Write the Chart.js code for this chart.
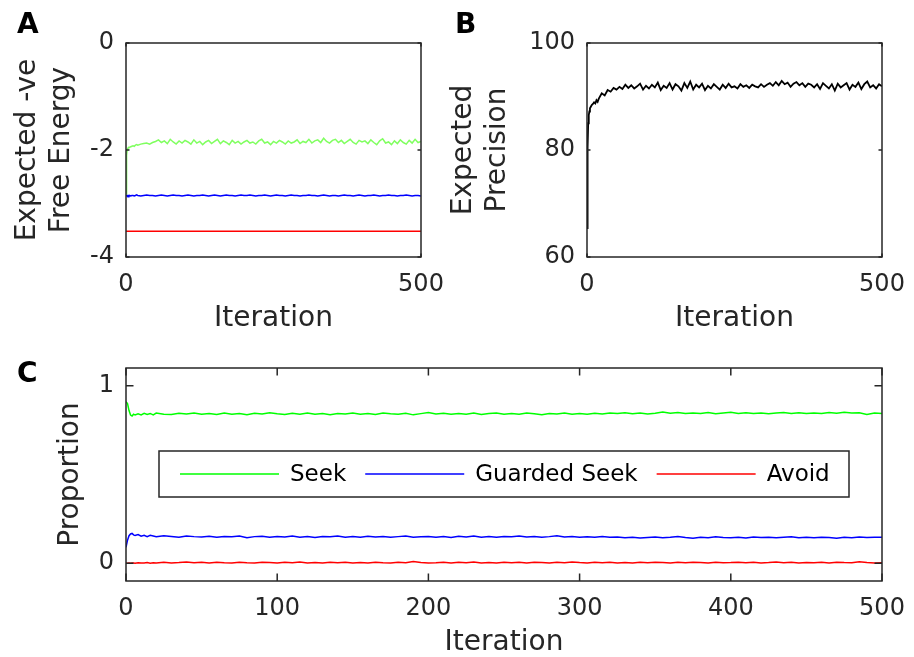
<!DOCTYPE html>
<html><head><meta charset="utf-8">
<script src="https://cdn.jsdelivr.net/npm/chart.js@4"></script>
<style>
html,body{margin:0;padding:0;background:#fff;width:914px;height:657px;overflow:hidden}
canvas{position:absolute}
</style></head><body>
<canvas id="cA" width="450" height="340" style="left:0px;top:0px;width:450px;height:340px"></canvas>
<canvas id="cB" width="474" height="340" style="left:440px;top:0px;width:474px;height:340px"></canvas>
<canvas id="cC" width="914" height="317" style="left:0px;top:340px;width:914px;height:317px"></canvas>
<script>
// ---- data ----
const iterations = [
  0,1,2,3,4,5,6,8,10,12,
  14,16,18,20,25,30,35,40,45,50,
  55,60,65,70,75,80,85,90,95,100,
  105,110,115,120,125,130,135,140,145,150,
  155,160,165,170,175,180,185,190,195,200,
  205,210,215,220,225,230,235,240,245,250,
  255,260,265,270,275,280,285,290,295,300,
  305,310,315,320,325,330,335,340,345,350,
  355,360,365,370,375,380,385,390,395,400,
  405,410,415,420,425,430,435,440,445,450,
  455,460,465,470,475,480,485,490,495,500];

const energySeek = [
  -2.82,-2.10,-2.00,-1.97,-1.96,-1.95,-1.95,-1.94,-1.93,-1.92,
  -1.93,-1.91,-1.90,-1.91,-1.89,-1.88,-1.87,-1.89,-1.86,-1.84,
  -1.81,-1.86,-1.83,-1.88,-1.80,-1.85,-1.89,-1.83,-1.87,-1.82,
  -1.85,-1.89,-1.81,-1.87,-1.84,-1.90,-1.85,-1.82,-1.88,-1.84,
  -1.80,-1.88,-1.83,-1.86,-1.90,-1.82,-1.87,-1.84,-1.89,-1.85,
  -1.82,-1.87,-1.85,-1.89,-1.83,-1.80,-1.87,-1.85,-1.90,-1.84,
  -1.87,-1.82,-1.85,-1.89,-1.83,-1.87,-1.85,-1.81,-1.88,-1.84,
  -1.86,-1.80,-1.87,-1.83,-1.81,-1.86,-1.78,-1.84,-1.87,-1.82,
  -1.80,-1.86,-1.82,-1.88,-1.84,-1.80,-1.86,-1.89,-1.82,-1.85,
  -1.83,-1.88,-1.81,-1.86,-1.90,-1.83,-1.79,-1.87,-1.85,-1.90,
  -1.83,-1.88,-1.81,-1.86,-1.89,-1.82,-1.87,-1.80,-1.86,-1.84];

const energyGuarded = [
  -2.86,-2.86,-2.85,-2.86,-2.85,-2.86,-2.85,-2.86,-2.85,-2.85,
  -2.86,-2.85,-2.84,-2.85,-2.86,-2.85,-2.84,-2.85,-2.85,-2.86,
  -2.85,-2.84,-2.85,-2.86,-2.85,-2.84,-2.85,-2.85,-2.86,-2.85,
  -2.84,-2.85,-2.86,-2.85,-2.85,-2.84,-2.85,-2.86,-2.85,-2.84,
  -2.85,-2.86,-2.85,-2.84,-2.85,-2.85,-2.86,-2.85,-2.84,-2.85,
  -2.85,-2.84,-2.85,-2.86,-2.85,-2.85,-2.84,-2.85,-2.86,-2.85,
  -2.84,-2.85,-2.85,-2.86,-2.85,-2.84,-2.85,-2.85,-2.86,-2.85,
  -2.85,-2.84,-2.85,-2.85,-2.86,-2.85,-2.84,-2.85,-2.86,-2.85,
  -2.85,-2.86,-2.85,-2.84,-2.85,-2.85,-2.86,-2.85,-2.84,-2.85,
  -2.86,-2.85,-2.85,-2.84,-2.85,-2.86,-2.85,-2.85,-2.84,-2.85,
  -2.85,-2.86,-2.85,-2.85,-2.84,-2.85,-2.86,-2.85,-2.85,-2.86];

const energyAvoid = [
  -3.52,-3.52,-3.52,-3.52,-3.52,-3.52,-3.52,-3.52,-3.52,-3.52,
  -3.52,-3.52,-3.52,-3.52,-3.52,-3.52,-3.52,-3.52,-3.52,-3.52,
  -3.52,-3.52,-3.52,-3.52,-3.52,-3.52,-3.52,-3.52,-3.52,-3.52,
  -3.52,-3.52,-3.52,-3.52,-3.52,-3.52,-3.52,-3.52,-3.52,-3.52,
  -3.52,-3.52,-3.52,-3.52,-3.52,-3.52,-3.52,-3.52,-3.52,-3.52,
  -3.52,-3.52,-3.52,-3.52,-3.52,-3.52,-3.52,-3.52,-3.52,-3.52,
  -3.52,-3.52,-3.52,-3.52,-3.52,-3.52,-3.52,-3.52,-3.52,-3.52,
  -3.52,-3.52,-3.52,-3.52,-3.52,-3.52,-3.52,-3.52,-3.52,-3.52,
  -3.52,-3.52,-3.52,-3.52,-3.52,-3.52,-3.52,-3.52,-3.52,-3.52,
  -3.52,-3.52,-3.52,-3.52,-3.52,-3.52,-3.52,-3.52,-3.52,-3.52,
  -3.52,-3.52,-3.52,-3.52,-3.52,-3.52,-3.52,-3.52,-3.52,-3.52];

const precision = [
  65.4,80.5,85.0,86.5,87.2,87.8,88.0,88.4,88.6,88.9,
  88.7,89.3,89.0,89.6,90.6,90.2,91.2,90.9,91.6,91.3,
  91.8,91.4,92.2,91.6,92.1,91.5,91.9,92.4,91.3,92.0,
  91.5,92.2,91.7,92.6,91.2,92.0,91.6,92.5,91.3,92.3,
  91.9,91.1,92.5,91.6,92.8,91.3,92.2,91.7,92.4,91.2,
  92.0,91.5,92.3,91.8,91.3,92.2,91.6,92.4,91.7,91.9,
  91.5,92.3,91.8,92.1,91.6,92.2,91.9,91.7,92.3,91.8,
  92.2,92.5,92.0,92.7,92.1,92.9,92.3,92.6,91.8,92.4,
  92.7,92.1,92.5,91.8,92.4,92.2,91.7,92.3,91.4,92.5,
  92.0,91.5,92.3,91.1,92.4,91.7,92.1,92.5,91.3,92.2,
  91.8,92.6,91.4,92.3,92.8,91.7,92.1,91.5,92.3,91.9];

const propSeek = [
  0.91,0.90,0.86,0.835,0.83,0.84,0.835,0.842,0.836,0.845,
  0.838,0.844,0.836,0.846,0.840,0.838,0.845,0.841,0.847,0.839,
  0.843,0.838,0.846,0.840,0.844,0.837,0.845,0.841,0.848,0.842,
  0.838,0.845,0.840,0.847,0.839,0.843,0.836,0.844,0.841,0.846,
  0.840,0.844,0.838,0.846,0.842,0.839,0.845,0.836,0.843,0.849,
  0.841,0.845,0.839,0.844,0.840,0.846,0.838,0.843,0.847,0.840,
  0.844,0.839,0.846,0.842,0.837,0.844,0.841,0.846,0.839,0.843,
  0.840,0.845,0.841,0.847,0.843,0.848,0.842,0.846,0.841,0.845,
  0.852,0.845,0.849,0.843,0.847,0.844,0.849,0.842,0.846,0.850,
  0.844,0.848,0.843,0.847,0.842,0.846,0.849,0.844,0.848,0.843,
  0.847,0.843,0.849,0.845,0.851,0.846,0.848,0.838,0.846,0.844];

const propGuarded = [
  0.09,0.13,0.155,0.165,0.168,0.160,0.156,0.162,0.152,0.158,
  0.150,0.157,0.153,0.149,0.155,0.151,0.147,0.154,0.150,0.148,
  0.152,0.146,0.151,0.149,0.153,0.144,0.150,0.152,0.147,0.151,
  0.148,0.153,0.147,0.150,0.145,0.151,0.149,0.154,0.147,0.150,
  0.146,0.152,0.148,0.151,0.147,0.150,0.153,0.146,0.149,0.151,
  0.147,0.150,0.145,0.152,0.148,0.153,0.147,0.150,0.146,0.151,
  0.149,0.154,0.148,0.151,0.147,0.150,0.155,0.148,0.150,0.146,
  0.149,0.147,0.151,0.146,0.148,0.143,0.146,0.142,0.145,0.148,
  0.144,0.146,0.150,0.145,0.141,0.147,0.144,0.149,0.145,0.143,
  0.146,0.142,0.148,0.145,0.147,0.143,0.146,0.149,0.144,0.146,
  0.143,0.147,0.145,0.141,0.146,0.144,0.148,0.145,0.147,0.146];

const propAvoid = [
  0.000,0.000,0.001,0.000,0.002,0.001,0.000,0.003,0.001,0.002,
  0.004,0.000,0.003,0.001,0.006,0.002,0.004,0.007,0.003,0.005,
  0.002,0.006,0.003,0.001,0.005,0.003,0.002,0.006,0.004,0.001,
  0.005,0.003,0.007,0.002,0.004,0.001,0.005,0.003,0.006,0.002,
  0.004,0.002,0.006,0.003,0.001,0.005,0.003,0.010,0.004,0.002,
  0.003,0.006,0.002,0.005,0.003,0.007,0.002,0.004,0.001,0.005,
  0.003,0.005,0.002,0.006,0.004,0.002,0.005,0.003,0.007,0.004,
  0.002,0.005,0.003,0.006,0.002,0.004,0.001,0.005,0.003,0.006,
  0.004,0.002,0.005,0.003,0.006,0.004,0.002,0.005,0.003,0.004,
  0.006,0.003,0.005,0.002,0.004,0.007,0.003,0.005,0.002,0.004,
  0.003,0.005,0.002,0.006,0.004,0.003,0.008,0.004,0.002,0.003];

const legendLabels = ['Seek', 'Guarded Seek', 'Avoid'];
const xTicksTop = [0, 500];
const yTicksA = [-4, -2, 0];
const yTicksB = [60, 80, 100];
const xTicksC = [0, 100, 200, 300, 400, 500];
const yTicksC = [0, 1];

// ---- styling ----
Chart.defaults.font.family = "'DejaVu Sans', sans-serif";
Chart.defaults.color = '#262626';
const AX = '#262626';

function pts(vals) { return iterations.map((x, i) => ({x: x, y: vals[i]})); }

const framePlugin = {
  id: 'frame',
  afterDatasetsDraw(chart, args, o) {
    const ctx = chart.ctx, a = chart.chartArea;
    const xs = chart.scales.x, ys = chart.scales.y;
    ctx.save();
    ctx.strokeStyle = AX; ctx.lineWidth = 1.5;
    ctx.beginPath();
    xs.ticks.forEach(t => {
      const p = xs.getPixelForValue(t.value);
      ctx.moveTo(p, a.bottom); ctx.lineTo(p, a.bottom - o.tickLen);
      ctx.moveTo(p, a.top); ctx.lineTo(p, a.top + o.tickLen);
    });
    ys.ticks.forEach(t => {
      const p = ys.getPixelForValue(t.value);
      ctx.moveTo(a.left, p); ctx.lineTo(a.left + o.tickLen, p);
      ctx.moveTo(a.right, p); ctx.lineTo(a.right - o.tickLen, p);
    });
    ctx.stroke();
    ctx.strokeRect(a.left, a.top, a.right - a.left, a.bottom - a.top);
    if (o.legend) {
      const L = o.legend;
      ctx.fillStyle = '#fff';
      ctx.fillRect(L.x, L.y, L.w, L.h);
      ctx.strokeStyle = AX; ctx.lineWidth = 1.5;
      ctx.strokeRect(L.x, L.y, L.w, L.h);
      ctx.font = "23px 'DejaVu Sans'";
      ctx.textBaseline = 'middle'; ctx.textAlign = 'left';
      let x = L.x + 21;
      const cy = L.y + L.h / 2;
      chart.data.datasets.forEach(ds => {
        ctx.strokeStyle = ds.borderColor; ctx.lineWidth = 1.5;
        ctx.beginPath(); ctx.moveTo(x, cy); ctx.lineTo(x + 99, cy); ctx.stroke();
        x += 110;
        ctx.fillStyle = '#000';
        ctx.fillText(ds.label, x, cy + 1);
        x += ctx.measureText(ds.label).width + 19;
      });
    }
    ctx.fillStyle = '#000';
    ctx.font = "bold 28px 'DejaVu Sans'";
    ctx.textAlign = 'left'; ctx.textBaseline = 'alphabetic';
    ctx.fillText(o.letter, o.lx, o.ly);
    ctx.restore();
  }
};

function axisX(ticks, h, titlePad) {
  return {
    type: 'linear', min: 0, max: 500,
    grid: {display: false, drawTicks: false, tickLength: 0},
    border: {display: false},
    ticks: {font: {size: 24}, color: AX, padding: 13, maxRotation: 0, autoSkip: false},
    title: {display: true, text: 'Iteration', font: {size: 28}, color: AX, padding: {top: 0, bottom: titlePad}},
    afterBuildTicks: s => { s.ticks = ticks.map(v => ({value: v})); },
    afterFit: s => { s.height = h; s.paddingLeft = 0; s.paddingRight = 0; }
  };
}
function axisY(min, max, ticks, w, title, titlePad) {
  return {
    type: 'linear', min: min, max: max,
    grid: {display: false, drawTicks: false, tickLength: 0},
    border: {display: false},
    ticks: {font: {size: 24}, color: AX, padding: 12, autoSkip: false},
    title: {display: true, text: title, font: {size: 28}, color: AX, padding: {top: titlePad, bottom: 0}},
    afterBuildTicks: s => { s.ticks = ticks.map(v => ({value: v})); },
    afterFit: s => { s.width = w; s.paddingTop = 0; s.paddingBottom = 0; }
  };
}
function lineDs(label, vals, color, w) {
  return {label: label, data: pts(vals), borderColor: color, backgroundColor: color,
          borderWidth: w, pointRadius: 0, tension: 0, fill: false};
}
function baseOpts(pad, scales, frame) {
  return {
    responsive: false, animation: false, devicePixelRatio: 1,
    layout: {padding: pad},
    plugins: {legend: {display: false}, tooltip: {enabled: false}, frame: frame},
    scales: scales
  };
}

new Chart(document.getElementById('cA'), {
  type: 'line',
  data: {datasets: [
    lineDs(legendLabels[0], energySeek, '#80ff60', 1.5),
    lineDs(legendLabels[1], energyGuarded, '#0000ff', 1.5),
    lineDs(legendLabels[2], energyAvoid, '#ff0000', 1.5)
  ]},
  options: baseOpts({left: 0, top: 43, right: 29, bottom: 0},
    {x: axisX(xTicksTop, 83, 4), y: axisY(-4, 0, yTicksA, 126, ['Expected -ve', 'Free Energy'], 11)},
    {tickLen: 3.5, letter: 'A', lx: 17, ly: 33}),
  plugins: [framePlugin]
});

new Chart(document.getElementById('cB'), {
  type: 'line',
  data: {datasets: [
    lineDs('Expected Precision', precision, '#000000', 1.8)
  ]},
  options: baseOpts({left: 0, top: 43, right: 32, bottom: 0},
    {x: axisX(xTicksTop, 83, 4), y: axisY(60, 100, yTicksB, 147, ['Expected', 'Precision'], 7)},
    {tickLen: 3.5, letter: 'B', lx: 15, ly: 33}),
  plugins: [framePlugin]
});

new Chart(document.getElementById('cC'), {
  type: 'line',
  data: {datasets: [
    lineDs(legendLabels[0], propSeek, '#00ff00', 1.5),
    lineDs(legendLabels[1], propGuarded, '#0000ff', 1.5),
    lineDs(legendLabels[2], propAvoid, '#ff0000', 1.5)
  ]},
  options: baseOpts({left: 0, top: 28, right: 32, bottom: 0},
    {x: axisX(xTicksC, 76, -3), y: axisY(-0.1, 1.1, yTicksC, 126, 'Proportion', 54)},
    {tickLen: 7.5, letter: 'C', lx: 17, ly: 42, legend: {x: 159, y: 111, w: 690, h: 46}}),
  plugins: [framePlugin]
});
</script>
</body></html>
